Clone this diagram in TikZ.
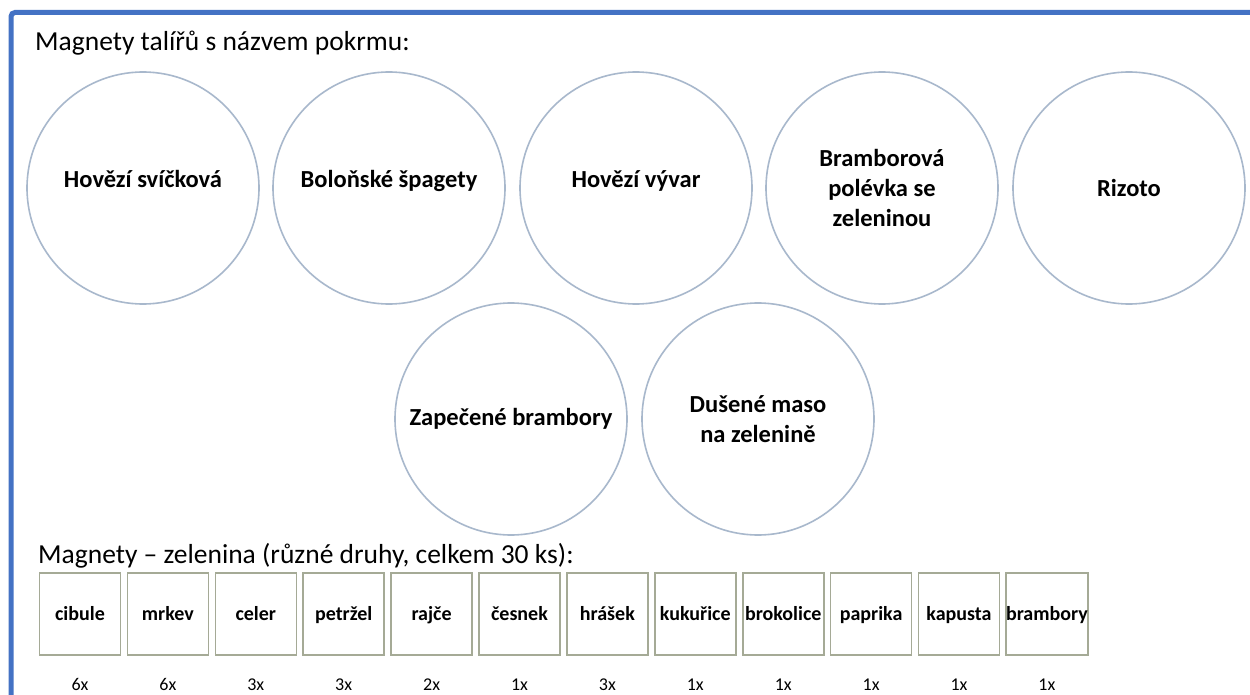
\documentclass[tikz,border=0pt]{standalone}
\usepackage{fontspec}
\setmainfont{Carlito}
\usepackage{tikz}

\definecolor{frameblue}{RGB}{68,114,196}
\definecolor{platerim}{RGB}{168,184,204}
\definecolor{boxrim}{RGB}{165,170,150}

\tikzset{
  plate/.style={draw=platerim, line width=1.6pt, circle, minimum size=232pt, inner sep=0pt,
    align=center, font=\fontsize{24.5}{30}\selectfont\bfseries},
  raised/.style={text height=17pt, text depth=17pt},
  veg/.style={draw=boxrim, line width=1.6pt, minimum width=81pt, minimum height=82pt,
    inner sep=0pt, text height=12pt, text depth=0pt, font=\fontsize{20}{22}\selectfont\bfseries},
  count/.style={anchor=base, font=\fontsize{18}{20}\selectfont},
  heading/.style={anchor=base west, inner sep=0pt, font=\fontsize{27.5}{32}\selectfont}
}

\begin{document}
\begin{tikzpicture}[x=1pt, y=-1pt]
\useasboundingbox [fill=white] (0,0) rectangle (1250,695);
% frame
\draw [frameblue, line width=5pt, rounded corners=4pt] (11,695) -- (11,12.5) -- (1250,12.5);

\node (title) at (35,51) [heading] {Magnety talířů s názvem pokrmu:};

% plates
\node (svickova) at (143,188) [plate, raised] {Hovězí svíčková};
\node (spagety) at (389,188) [plate, raised] {Boloňské špagety};
\node (vyvar) at (636,188) [plate, raised] {Hovězí vývar};
\node (polevka) at (882,188) [plate] {Bramborová\\polévka se\\zeleninou};
\node (rizoto) at (1129,188) [plate] {Rizoto};
\node (zapecene) at (511,419) [plate] {Zapečené brambory};
\node (duseno) at (758,419) [plate] {Dušené maso\\na zelenině};

\node (zelenina) at (38,563) [heading] {Magnety – zelenina (různé druhy, celkem 30 ks):};

% vegetables
\foreach \id/\name/\n [count=\i from 0] in {cib/cibule/6, mrk/mrkev/6, cel/celer/3,
    pet/petržel/3, raj/rajče/2, ces/česnek/1, hra/hrášek/3, kuk/kukuřice/1,
    bro/brokolice/1, pap/paprika/1, kap/kapusta/1, bra/brambory/1} {
  \node (\id) at (80+87.9*\i, 614) [veg] {\name};
  \node (\id n) at (80+87.9*\i, 690) [count] {\n x};
}
\end{tikzpicture}
\end{document}
